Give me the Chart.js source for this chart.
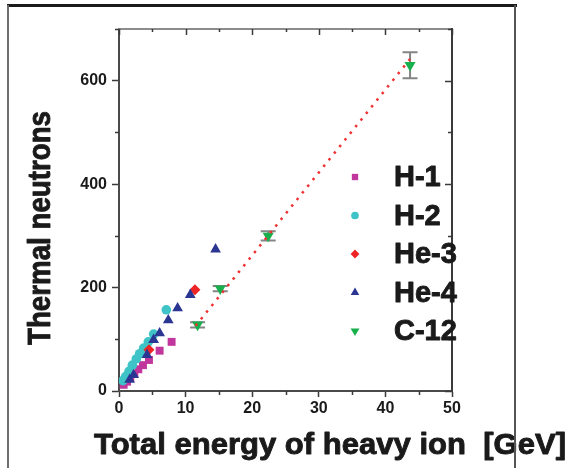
<!DOCTYPE html>
<html>
<head>
<meta charset="utf-8">
<script src="https://cdn.jsdelivr.net/npm/chart.js@4"></script>
<style>
  html, body { margin: 0; padding: 0; background: #fff; }
  canvas { display: block; }
</style>
</head>
<body>
<canvas id="neutronChart" width="569" height="468"></canvas>
<script>
// measured yields: total ion energy [GeV] vs thermal neutrons
const h1Energy = [0.7, 1.2, 1.7, 2.3, 2.9, 3.6, 4.5, 6.1, 7.9];
const h1Neutrons = [12, 18, 25, 33, 42, 50, 60, 78, 95];

const h2Energy = [0.6, 1.0, 1.5, 2.0, 2.6, 3.1, 3.7, 4.4, 5.2, 7.1];
const h2Neutrons = [20, 28, 38, 50, 62, 72, 83, 95, 110, 157];

const he3Energy = [4.5, 11.4];
const he3Neutrons = [80, 196];

const he4Energy = [1.6, 2.2, 4.2, 5.2, 6.1, 7.4, 8.8, 10.7, 14.5];
const he4Neutrons = [22, 31, 70, 99, 112, 137, 160, 186, 274];

const c12Energy = [11.8, 15.2, 22.4, 43.7];
const c12Neutrons = [128, 198, 300, 630];
const c12Error = [5, 5, 9, 25];

// linear fit through the C-12 points
const fitEnergy = [11.5, 43.7];
const fitNeutrons = [126, 642];

const xMajorTicks = [0, 10, 20, 30, 40, 50];
const yMajorTicks = [0, 200, 400, 600];

const FONT = "'Liberation Sans', Arial, sans-serif";
const INK = "#1a1a1a";

const chartCtx = document.getElementById("neutronChart").getContext("2d");

function toPoints(xs, ys) {
    return xs.map((x, i) => ({ x: x, y: ys[i] }));
}

const series = [
    { label: "H-1", xs: h1Energy, ys: h1Neutrons, color: "#c0369c", style: "rect", radius: 5.6, rotation: 0, order: 5 },
    { label: "H-2", xs: h2Energy, ys: h2Neutrons, color: "#3ec4c6", style: "circle", radius: 4.8, rotation: 0, order: 4 },
    { label: "He-3", xs: he3Energy, ys: he3Neutrons, color: "#ee2424", style: "rectRot", radius: 5.5, rotation: 0, order: 3 },
    { label: "He-4", xs: he4Energy, ys: he4Neutrons, color: "#2b3592", style: "triangle", radius: 6.2, rotation: 0, order: 2 },
    { label: "C-12", xs: c12Energy, ys: c12Neutrons, color: "#17b04c", style: "triangle", radius: 6.4, rotation: 180, order: 1 }
];

const datasets = series.map(s => ({
    label: s.label,
    data: toPoints(s.xs, s.ys),
    pointStyle: s.style,
    pointRadius: s.radius,
    pointRotation: s.rotation,
    pointBackgroundColor: s.color,
    pointBorderColor: s.color,
    pointBorderWidth: 0,
    showLine: false,
    order: s.order
}));

datasets.push({
    label: "fit",
    data: toPoints(fitEnergy, fitNeutrons),
    showLine: true,
    borderColor: "#f03030",
    borderWidth: 2.5,
    borderDash: [2.5, 6],
    pointRadius: 0,
    order: 0
});

// bold text, a little heavier, squeezed to a given width
function squeezedText(ctx, text, cx, cy, width, angle) {
    const w = ctx.measureText(text).width;
    ctx.save();
    ctx.translate(cx, cy);
    ctx.rotate(angle || 0);
    ctx.scale(width / w, 1);
    ctx.fillText(text, 0, 0);
    ctx.strokeText(text, 0, 0);
    ctx.restore();
}

const errorBars = {
    id: "errorBars",
    beforeDatasetsDraw(chart) {
        const { ctx, scales: { x, y } } = chart;
        ctx.save();
        ctx.strokeStyle = "#858585";
        ctx.lineWidth = 2;
        c12Energy.forEach((e, i) => {
            const px = x.getPixelForValue(e);
            const top = y.getPixelForValue(c12Neutrons[i] + c12Error[i]);
            const bot = y.getPixelForValue(c12Neutrons[i] - c12Error[i]);
            ctx.beginPath();
            ctx.moveTo(px, top);
            ctx.lineTo(px, bot);
            ctx.moveTo(px - 7.5, top);
            ctx.lineTo(px + 7.5, top);
            ctx.moveTo(px - 7.5, bot);
            ctx.lineTo(px + 7.5, bot);
            ctx.stroke();
        });
        ctx.restore();
    }
};

const frame = {
    id: "frame",
    afterDraw(chart) {
        const { ctx, chartArea: a, scales: { x, y } } = chart;
        ctx.save();

        // box round the plot
        ctx.lineWidth = 2;
        ctx.strokeStyle = "#8c8c8c";
        ctx.beginPath();
        ctx.moveTo(a.left - 1, a.top);
        ctx.lineTo(a.right, a.top);
        ctx.stroke();
        ctx.strokeStyle = "#3a3a3a";
        ctx.beginPath();
        ctx.moveTo(a.right, a.top - 1);
        ctx.lineTo(a.right, a.bottom + 1);
        ctx.stroke();

        // minor ticks and mirrored ticks
        ctx.strokeStyle = "#3a3a3a";
        ctx.lineWidth = 1.5;
        ctx.beginPath();
        for (let v = 0; v <= 50; v += 5) {
            const px = Math.round(x.getPixelForValue(v)) + 0.5;
            const major = v % 10 === 0;
            if (!major) {
                ctx.moveTo(px, a.bottom);
                ctx.lineTo(px, a.bottom + 4);
            }
            ctx.moveTo(px, a.top);
            ctx.lineTo(px, a.top + (major ? 6 : 3));
        }
        for (let v = 0; v <= 700; v += 100) {
            const py = Math.round(y.getPixelForValue(v)) + 0.5;
            const major = v % 200 === 0;
            if (!major) {
                ctx.moveTo(a.left, py);
                ctx.lineTo(a.left - 4, py);
            }
            ctx.moveTo(a.right, py);
            ctx.lineTo(a.right - (major ? 7 : 4), py);
        }
        ctx.stroke();

        // axis titles
        ctx.fillStyle = INK;
        ctx.strokeStyle = INK;
        ctx.lineWidth = 0.9;
        ctx.lineJoin = "round";
        ctx.textAlign = "center";
        ctx.textBaseline = "alphabetic";
        ctx.font = "bold 30px " + FONT;
        squeezedText(ctx, "Total energy of heavy ion  [GeV]", 330, 454, 472, 0);
        ctx.font = "bold 32px " + FONT;
        squeezedText(ctx, "Thermal neutrons", 50, 228, 234, -Math.PI / 2);

        // legend inside the plot
        ctx.textAlign = "left";
        ctx.textBaseline = "middle";
        ctx.font = "bold 29px " + FONT;
        series.forEach((s, i) => {
            const rowY = 177 + i * 38.5;
            ctx.fillStyle = s.color;
            ctx.strokeStyle = s.color;
            Chart.helpers.drawPoint(ctx, {
                pointStyle: s.style,
                radius: s.radius * 0.8,
                rotation: s.rotation,
                borderWidth: 0
            }, 355, rowY);
            ctx.fillStyle = INK;
            ctx.strokeStyle = INK;
            ctx.lineWidth = 0.9;
            const labelW = ctx.measureText(s.label).width;
            squeezedText(ctx, s.label, 394, rowY + 1, labelW, 0);
        });

        // outer border, on top of everything
        ctx.fillStyle = "#1a1a1a";
        ctx.fillRect(7, 4, 510, 3);
        ctx.fillStyle = "#6e6e6e";
        ctx.fillRect(7, 5, 2, 463);
        ctx.fillStyle = "#555";
        ctx.fillRect(514, 5, 2, 463);

        ctx.restore();
    }
};

new Chart(chartCtx, {
    type: "scatter",
    data: { datasets: datasets },
    options: {
        responsive: false,
        animation: false,
        layout: { padding: { left: 0, right: 117, top: 29, bottom: 0 } },
        plugins: {
            legend: { display: false },
            tooltip: { enabled: false }
        },
        scales: {
            x: {
                type: "linear",
                min: 0,
                max: 50,
                afterFit: scale => { scale.height = 77; },
                grid: { drawOnChartArea: false, tickLength: 6, tickColor: "#3a3a3a", tickWidth: 1.5 },
                border: { color: "#4a4a4a", width: 2 },
                ticks: {
                    stepSize: 10,
                    includeBounds: false,
                    maxRotation: 0,
                    padding: 2,
                    color: INK,
                    font: { family: FONT, size: 16, weight: "bold" },
                    callback: v => xMajorTicks.includes(v) ? v : ""
                }
            },
            y: {
                type: "linear",
                min: 0,
                max: 700,
                afterFit: scale => { scale.width = 119; },
                grid: { drawOnChartArea: false, tickLength: 7, tickColor: "#3a3a3a", tickWidth: 1.5 },
                border: { color: "#4a4a4a", width: 2 },
                ticks: {
                    stepSize: 200,
                    includeBounds: false,
                    padding: 5,
                    color: INK,
                    font: { family: FONT, size: 16, weight: "bold" },
                    callback: v => yMajorTicks.includes(v) ? v : ""
                }
            }
        }
    },
    plugins: [errorBars, frame]
});
</script>
</body>
</html>
